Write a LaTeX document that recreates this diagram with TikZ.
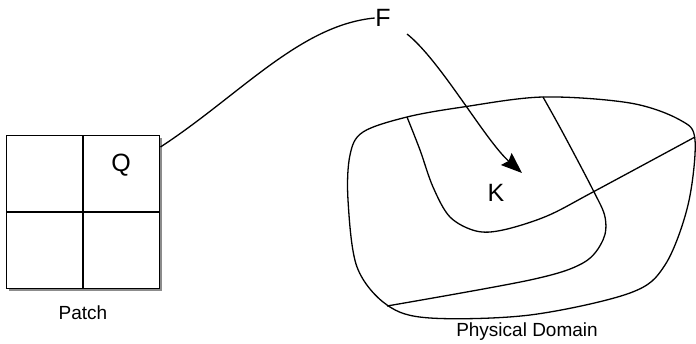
\documentclass[tikz,border=0pt]{standalone}
\usepackage{fontspec}
\setmainfont{Liberation Sans}
\usetikzlibrary{shadows,arrows.meta}
\begin{document}
\begin{tikzpicture}[x=1pt,y=-1pt,line width=1.3pt,
  bigtxt/.style={font=\fontsize{25}{28}\selectfont,inner sep=0pt},
  captxt/.style={font=\fontsize{19}{22}\selectfont,inner sep=0pt},
  patchbox/.style={draw,fill=white,minimum width=153pt,minimum height=153pt,inner sep=0pt,
    drop shadow={shadow xshift=2.5pt,shadow yshift=-2.5pt,opacity=0.45,fill=black}},
  link/.style={draw,line width=1.3pt}]
\useasboundingbox (0,0) rectangle (696,343);
% patch
\node[patchbox] (patch) at (83,212) {};
\draw (83,135.5) -- (83,288.5);
\draw (6.5,212) -- (159.5,212);
\node[bigtxt] (Q) at (121,165) {Q};
\node[captxt] (plabel) at (83,313) {Patch};
% F
\node[bigtxt] (F) at (383,18) {F};
\coordinate (c1) at (160.5,147);
\draw[link] (c1) .. controls (240,95) and (300,25) .. (F.west);
\coordinate (kt) at (522,173);
\draw[link,-{Stealth[length=21pt,width=16pt,inset=3pt]}] (407,34) .. controls (440,60) and (485,140) .. (kt);
% domain
\draw[smooth cycle,tension=0.55] plot coordinates {
 (407,117) (363,132) (350,155) (348,200) (357,267) (387,305) (430,318) (530,315)
 (630,293) (665,265) (688,205) (695,140) (680,120) (630,103) (543,97) (463,107)};
\draw[smooth,tension=0.55] plot coordinates {
 (407,117) (420,150) (433,187) (450,217) (476,231) (503,230) (547,216) (593,192) (695,137)};
\draw[smooth,tension=0.55] plot coordinates {
 (543,97) (563,133) (593,190) (605,217) (603,240) (583,263) (530,280) (387,306)};
\node[bigtxt] (K) at (496,193) {K};
\node[captxt] (dlabel) at (527,332) {Physical Domain};
\end{tikzpicture}
\end{document}
